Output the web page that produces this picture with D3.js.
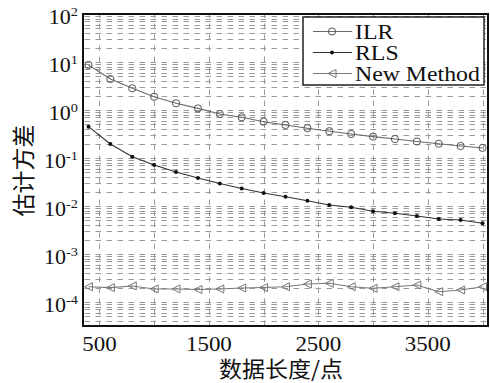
<!DOCTYPE html>
<html>
<head>
<meta charset="utf-8">
<script src="https://cdn.jsdelivr.net/npm/d3@7"></script>
<style>
body { margin: 0; background: #fff; }
text { font-family: "Liberation Serif", "Times New Roman", serif; fill: #111; }
.cjk { font-family: "Noto Sans CJK SC", sans-serif; }
</style>
</head>
<body>
<svg width="490" height="383"></svg>
<script>
// data length (points)
var lengths = [400, 600, 800, 1000, 1200, 1400, 1600, 1800, 2000, 2200,
               2400, 2600, 2800, 3000, 3200, 3400, 3600, 3800, 4000];
var ilr = [8.66, 4.42, 2.83, 1.89, 1.38, 1.08, 0.826, 0.705, 0.571, 0.487,
           0.418, 0.362, 0.316, 0.279, 0.248, 0.221, 0.198, 0.178, 0.162];
var rls = [0.449, 0.196, 0.106, 0.0715, 0.0511, 0.0383, 0.0294, 0.0232, 0.0187, 0.0156,
           0.0129, 0.0105, 0.0094, 0.00776, 0.00705, 0.00619, 0.00536, 0.00511, 0.00436];
var newMethod = [2.08e-4, 1.99e-4, 2.16e-4, 1.87e-4, 1.87e-4, 1.82e-4, 1.87e-4, 1.96e-4, 2.0e-4, 2.08e-4,
                 2.37e-4, 2.45e-4, 2.08e-4, 1.93e-4, 2.08e-4, 2.26e-4, 1.64e-4, 1.78e-4, 2.08e-4];
var seriesNames = ["ILR", "RLS", "New Method"];
var xTicks = [500, 1500, 2500, 3500];
var xGrid = [500, 1000, 1500, 2000, 2500, 3000, 3500, 4000];
var yExps = [2, 1, 0, -1, -2, -3, -4];

var svg = d3.select("svg");
var pl = 83, pr = 488, pt = 14, pb = 326;

var x = d3.scaleLinear().domain([350, 4050]).range([pl, pr]);
var y = d3.scaleLog().domain([Math.pow(10, -4.5), 100]).range([pb, pt]);

// grid: minor + major horizontal lines
var yGrid = [];
for (var e = -5; e <= 1; e++) {
    for (var m = 1; m <= 9; m++) {
        var v = m * Math.pow(10, e);
        if (v >= y.domain()[0] && v < 100) yGrid.push(v);
    }
}
var grid = svg.append("g").attr("stroke", "#9a9a9a").attr("stroke-width", 1)
    .attr("stroke-dasharray", "5.5,5.5");
grid.selectAll(".hg").data(yGrid).enter().append("line")
    .attr("x1", pl + 1.5).attr("x2", pr)
    .attr("y1", function(d){ return Math.round(y(d)) + 0.5; })
    .attr("y2", function(d){ return Math.round(y(d)) + 0.5; });
grid.selectAll(".vg").data(xGrid).enter().append("line")
    .attr("y1", pb).attr("y2", pt)
    .attr("x1", function(d){ return Math.round(x(d)) + 0.5; })
    .attr("x2", function(d){ return Math.round(x(d)) + 0.5; });

// series
var line = function(vals){
    return d3.line()
        .x(function(d, i){ return x(lengths[i]); })
        .y(function(d){ return y(d); })(vals);
};
svg.append("path").attr("d", line(ilr)).attr("fill", "none")
    .attr("stroke", "#6a6a6a").attr("stroke-width", 1.1);
svg.append("path").attr("d", line(rls)).attr("fill", "none")
    .attr("stroke", "#333").attr("stroke-width", 1.1);
svg.append("path").attr("d", line(newMethod)).attr("fill", "none")
    .attr("stroke", "#7a7a7a").attr("stroke-width", 1.1);

function circleMark(g, cx, cy){
    g.append("circle").attr("cx", cx).attr("cy", cy).attr("r", 3.6)
        .attr("fill", "none").attr("stroke", "#555").attr("stroke-width", 1);
}
function dotMark(g, cx, cy){
    g.append("circle").attr("cx", cx).attr("cy", cy).attr("r", 2).attr("fill", "#111");
}
function triMark(g, cx, cy){
    g.append("path")
        .attr("d", "M" + (cx - 4) + "," + cy + "L" + (cx + 4) + "," + (cy - 4) + "L" + (cx + 4) + "," + (cy + 4) + "Z")
        .attr("fill", "none").attr("stroke", "#777").attr("stroke-width", 1);
}
var marks = svg.append("g");
lengths.forEach(function(L, i){
    circleMark(marks, x(L), y(ilr[i]));
    dotMark(marks, x(L), y(rls[i]));
    triMark(marks, x(L), y(newMethod[i]));
});

// frame
svg.append("rect").attr("x", pl).attr("y", pt)
    .attr("width", pr - pl).attr("height", pb - pt)
    .attr("fill", "none").attr("stroke", "#111").attr("stroke-width", 2);

// x tick labels
xTicks.forEach(function(t){
    svg.append("text")
        .attr("transform", "translate(" + x(t) + ",351) scale(1.12,1)")
        .attr("text-anchor", "middle").attr("font-size", 20.5).text(t);
});

// y tick labels 10^n
yExps.forEach(function(ex){
    var t = svg.append("text")
        .attr("transform", "translate(78," + (y(Math.pow(10, ex)) + 10) + ") scale(1.1,1)")
        .attr("text-anchor", "end").attr("font-size", 20);
    t.append("tspan").text("10");
    t.append("tspan").attr("dy", -8).attr("font-size", 13).text(ex);
});

// axis titles
svg.append("text").attr("class", "cjk")
    .attr("transform", "translate(281,377) scale(1.07,1)")
    .attr("text-anchor", "middle").attr("font-size", 21.5).text("数据长度/点");
svg.append("text").attr("class", "cjk")
    .attr("transform", "translate(32,170.5) rotate(-90)")
    .attr("text-anchor", "middle").attr("font-size", 23).text("估计方差");

// legend
var lg = svg.append("g");
lg.append("rect").attr("x", 303).attr("y", 17).attr("width", 181).attr("height", 68)
    .attr("fill", "#fff").attr("stroke", "#222").attr("stroke-width", 1.5);
var legendY = [39, 60, 81];
var legendStroke = ["#6a6a6a", "#333", "#7a7a7a"];
var legendMark = [circleMark, dotMark, triMark];
seriesNames.forEach(function(name, i){
    var ly = legendY[i] - 7.5;
    lg.append("line").attr("x1", 313).attr("x2", 352).attr("y1", ly).attr("y2", ly)
        .attr("stroke", legendStroke[i]).attr("stroke-width", 1.1);
    legendMark[i](lg, 332, ly);
    lg.append("text")
        .attr("transform", "translate(355," + legendY[i] + ") scale(1.19,1)")
        .attr("font-size", 20).text(name);
});
</script>
</body>
</html>
